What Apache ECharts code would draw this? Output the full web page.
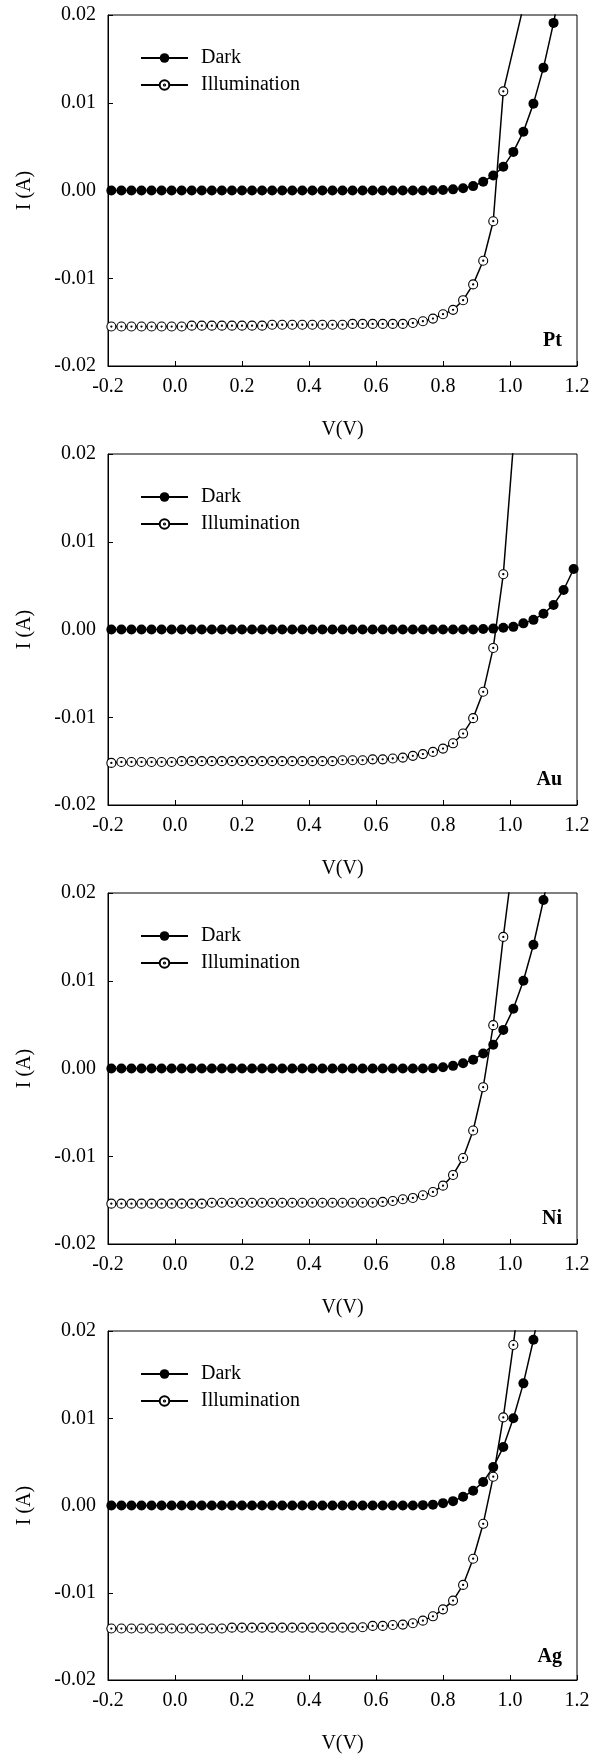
<!DOCTYPE html>
<html><head><meta charset="utf-8">
<script src="https://cdn.jsdelivr.net/npm/echarts@6/dist/echarts.min.js"></script>
<style>html,body{margin:0;padding:0;background:#fff}#c{width:600px;height:1755px}</style>
</head><body><div id="c"></div>
<script>
// Voltage sweep (V)
const V = [-0.19,-0.16,-0.13,-0.10,-0.07,-0.04,-0.01,0.02,0.05,0.08,0.11,0.14,0.17,0.20,0.23,0.26,0.29,0.32,0.35,0.38,0.41,0.44,0.47,0.50,0.53,0.56,0.59,0.62,0.65,0.68,0.71,0.74,0.77,0.80,0.83,0.86,0.89,0.92,0.95,0.98,1.01,1.04,1.07,1.10,1.13,1.16,1.19];

// Currents (A); null = point not drawn
const ptDark = [0,0,0,0,0,0,0,0,0,0, 0,0,0,0,0,0,0,0,0,0, 0,0,0,0,0,0,0,0,0,0, 0,0,
  0.00002,0.00005,0.00013,0.00025,0.0005,0.0010,0.0017,0.0027,0.0044,0.0067,0.0099,0.0140,0.0191,0.0250];
const ptIllum = [-0.0155,-0.0155,-0.0155,-0.0155,-0.0155,-0.0155,-0.0155,-0.0155,
  -0.0154,-0.0154,-0.0154,-0.0154,-0.0154,-0.0154,-0.0154,-0.0154,
  -0.0153,-0.0153,-0.0153,-0.0153,-0.0153,-0.0153,-0.0153,-0.0153,
  -0.0152,-0.0152,-0.0152,-0.0152,-0.0152,-0.0152,
  -0.0151,-0.0149,-0.0146,-0.0141,-0.0136,-0.0125,-0.0107,-0.0080,-0.0035,0.0113,null,0.0210];

const auDark = [0,0,0,0,0,0,0,0,0,0, 0,0,0,0,0,0,0,0,0,0, 0,0,0,0,0,0,0,0,0,0, 0,0,0,0,0,0,0,
  0.00005,0.0001,0.0002,0.0003,0.0007,0.0011,0.0018,0.0028,0.0045,0.0069];
const auIllum = [-0.0152,-0.0151,-0.0151,-0.0151,-0.0151,-0.0151,-0.0151,
  -0.0150,-0.0150,-0.0150,-0.0150,-0.0150,-0.0150,-0.0150,-0.0150,-0.0150,-0.0150,-0.0150,-0.0150,-0.0150,-0.0150,-0.0150,-0.0150,
  -0.0149,-0.0149,-0.0149,
  -0.0148,-0.0148,-0.0147,-0.0146,-0.0144,-0.0142,-0.01395,-0.01357,-0.01297,-0.01186,-0.0101,-0.0071,-0.0021,0.0063,0.0210];

const niDark = [0,0,0,0,0,0,0,0,0,0, 0,0,0,0,0,0,0,0,0,0, 0,0,0,0,0,0,0,0,0,0, 0,0,
  0.00004,0.00015,0.0003,0.0006,0.0010,0.0017,0.0027,0.0044,0.0068,0.0100,0.0141,0.0192,0.0250];
const niIllum = [-0.0154,-0.0154,-0.0154,-0.0154,-0.0154,-0.0154,-0.0154,-0.0154,-0.0154,-0.0154,
  -0.0153,-0.0153,-0.0153,-0.0153,-0.0153,-0.0153,-0.0153,-0.0153,-0.0153,-0.0153,-0.0153,-0.0153,-0.0153,-0.0153,-0.0153,-0.0153,-0.0153,
  -0.0152,-0.0151,-0.0149,-0.01475,-0.01445,-0.01407,-0.01335,-0.01213,-0.0102,-0.00707,-0.00213,0.00494,0.0150,0.0240];

const agDark = [0,0,0,0,0,0,0,0,0,0, 0,0,0,0,0,0,0,0,0,0, 0,0,0,0,0,0,0,0,0,0, 0,
  0.00004,0.0001,0.00027,0.0005,0.0010,0.0017,0.0027,0.0044,0.0067,0.0100,0.0140,0.0190,0.0250];
const agIllum = [-0.0141,-0.0141,-0.0141,-0.0141,-0.0141,-0.0141,-0.0141,-0.0141,-0.0141,-0.0141,-0.0141,-0.0141,
  -0.0140,-0.0140,-0.0140,-0.0140,-0.0140,-0.0140,-0.0140,-0.0140,-0.0140,-0.0140,-0.0140,-0.0140,-0.0140,
  -0.01395,-0.0138,-0.0138,-0.0137,-0.01365,-0.0135,-0.0132,-0.0127,-0.0119,-0.0109,-0.0091,-0.0061,-0.0021,0.0033,0.0101,0.0184,0.0280];

const metals = ['Pt','Au','Ni','Ag'];
const darkSets = [ptDark, auDark, niDark, agDark];
const illumSets = [ptIllum, auIllum, niIllum, agIllum];
const seriesNames = ['Dark','Illumination'];
const xLabelName = 'V(V)';
const yLabelName = 'I (A)';

// layout
const FONT = "'Liberation Serif','Times New Roman',serif";
const tops = [15, 454, 893, 1331];
const H = 351;
const ringDot = 'path://M10,0A10,10,0,1,1,-10,0A10,10,0,1,1,10,0ZM1.3,0A1.3,1.3,0,1,1,-1.3,0A1.3,1.3,0,1,1,1.3,0Z';

function pairs(ys){ const out=[]; ys.forEach((y,i)=>{ if(y!==null) out.push([V[i], y]); }); return out; }
function clean(v){ return Math.abs(v) < 1e-9 ? 0 : v; }

const option = {animation:false, backgroundColor:'#fff', grid:[], xAxis:[], yAxis:[], series:[], legend:[], title:[]};
metals.forEach((m,i)=>{
  option.grid.push({left:108, right:23, top:tops[i], height:H, show:true, borderColor:'#000', borderWidth:1, backgroundColor:'transparent', containLabel:false});
  option.xAxis.push({type:'value', gridIndex:i, min:-0.2, max:1.2, interval:0.2,
    name:xLabelName, nameLocation:'middle', nameGap:54,
    nameTextStyle:{fontFamily:FONT, fontSize:20, color:'#000'},
    axisLine:{show:true, onZero:false, lineStyle:{color:'#000', width:1}},
    axisTick:{show:true, inside:true, length:5, lineStyle:{color:'#000'}},
    axisLabel:{margin:11, fontFamily:FONT, fontSize:20, color:'#000', formatter:v=>clean(v).toFixed(1)},
    splitLine:{show:false}});
  option.yAxis.push({type:'value', gridIndex:i, min:-0.02, max:0.02, interval:0.01,
    name:yLabelName, nameLocation:'middle', nameGap:73, nameRotate:90,
    nameTextStyle:{fontFamily:FONT, fontSize:20, color:'#000'},
    axisLine:{show:true, onZero:false, lineStyle:{color:'#000', width:1}},
    axisTick:{show:true, inside:true, length:5, lineStyle:{color:'#000'}},
    axisLabel:{margin:12, fontFamily:FONT, fontSize:20, color:'#000', formatter:v=>clean(v).toFixed(2)},
    splitLine:{show:false}});
  option.legend.push({orient:'vertical', left:135, top:tops[i]+28, itemWidth:47, itemHeight:12, itemGap:7,
    data:seriesNames, selectedMode:false,
    textStyle:{fontFamily:FONT, fontSize:20, color:'#000', padding:[0,0,0,8]}});
  option.title.push({text:m, right:38, top:tops[i]+316, padding:0,
    textStyle:{fontFamily:FONT, fontSize:20, fontWeight:'bold', color:'#000'}});
  option.series.push({type:'line', name:seriesNames[0], xAxisIndex:i, yAxisIndex:i, data:pairs(darkSets[i]),
    symbol:'circle', symbolSize:10, showAllSymbol:true, clip:true,
    lineStyle:{color:'#000', width:1.5}, itemStyle:{color:'#000'}, emphasis:{disabled:true}, z:2});
  option.series.push({type:'line', name:seriesNames[1], xAxisIndex:i, yAxisIndex:i, data:pairs(illumSets[i]),
    symbol:ringDot, symbolSize:9, symbolKeepAspect:true, showAllSymbol:true, clip:true,
    lineStyle:{color:'#000', width:1.5}, itemStyle:{color:'#fff', borderColor:'#000', borderWidth:1.1},
    emphasis:{disabled:true}, z:3});
});
const chart = echarts.init(document.getElementById('c'), null, {renderer:'canvas'});
chart.setOption(option);
</script>
</body></html>
